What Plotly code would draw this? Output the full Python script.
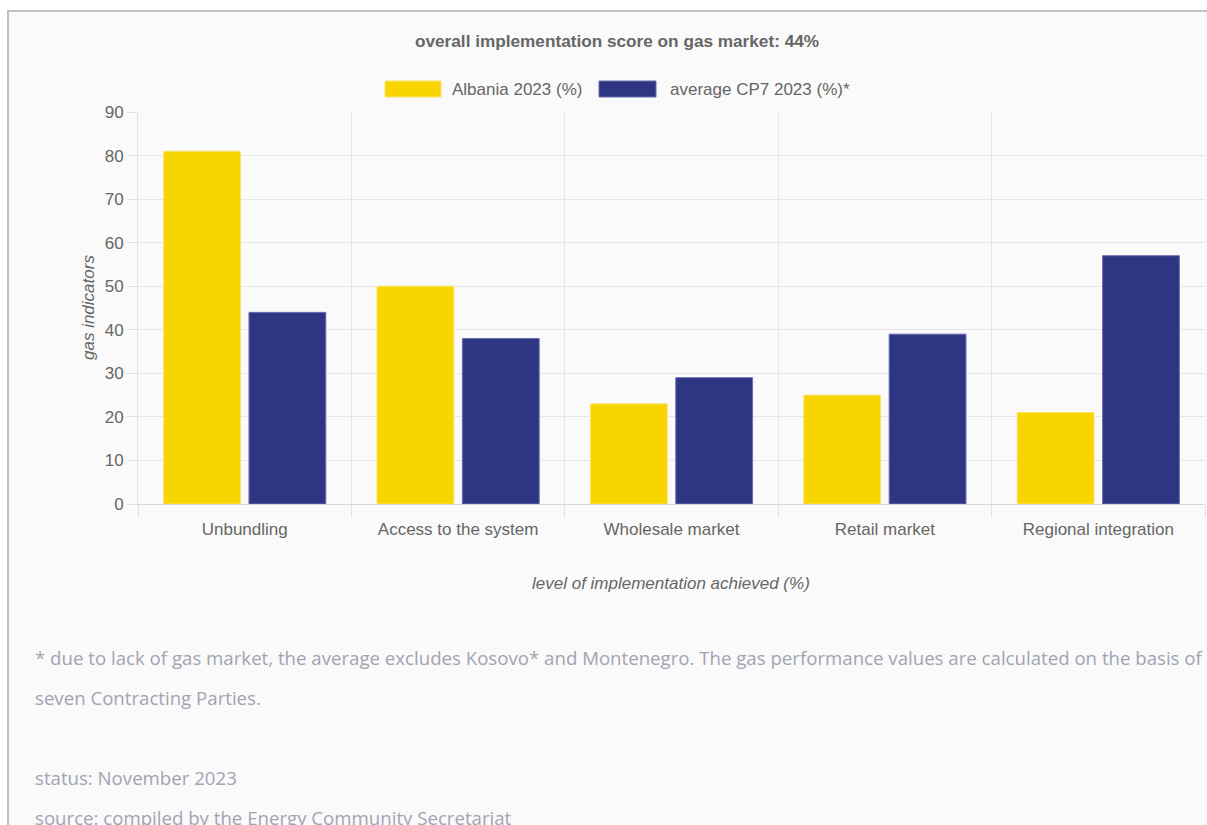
import plotly.graph_objects as go

categories = ["Unbundling", "Access to the system", "Wholesale market", "Retail market", "Regional integration"]
albania_2023 = [81, 50, 23, 25, 21]
average_cp7_2023 = [44, 38, 29, 39, 57]
series_names = ["Albania 2023 (%)", "average CP7 2023 (%)*"]
y_ticks = [0, 10, 20, 30, 40, 50, 60, 70, 80, 90]

title_text = "overall implementation score on gas market: 44%"
footnote_lines = [
    "* due to lack of gas market, the average excludes Kosovo* and Montenegro. The gas performance values are calculated on the basis of",
    "seven Contracting Parties.",
    "status: November 2023",
    "source: compiled by the Energy Community Secretariat",
]

W, H = 1207, 825
L, R, T, B = 138, 1205, 112, 504
YELLOW = "#F8D400"
NAVY = "#2E3582"
TXT = "#666666"
FONT = "Liberation Sans, Arial"


def px(x):
    return (x - L) / (R - L)


def py(y):
    return (B - y) / (B - T)


fig = go.Figure()
fig.add_trace(go.Bar(x=categories, y=albania_2023, name=series_names[0],
                     marker=dict(color=YELLOW, line=dict(color="#FBE36A", width=1))))
fig.add_trace(go.Bar(x=categories, y=average_cp7_2023, name=series_names[1],
                     marker=dict(color=NAVY, line=dict(color="#6A6FB0", width=1))))

shapes = [
    dict(type="rect", xref="paper", yref="paper", x0=px(8), x1=px(1260), y0=py(880), y1=py(11),
         fillcolor="#FAFAFA", line=dict(color="#C2C2C2", width=2), layer="below"),
    dict(type="rect", xref="paper", yref="paper", x0=px(385), x1=px(441), y0=py(97), y1=py(81),
         fillcolor=YELLOW, line=dict(color="#FBE36A", width=1)),
    dict(type="rect", xref="paper", yref="paper", x0=px(599), x1=px(656), y0=py(97), y1=py(81),
         fillcolor=NAVY, line=dict(color="#6A6FB0", width=1)),
]

annotations = [
    dict(text="<b>" + title_text + "</b>", xref="paper", yref="paper", x=px(617), y=py(41),
         xanchor="center", yanchor="middle", showarrow=False,
         font=dict(family=FONT, size=17.2, color=TXT)),
    dict(text=series_names[0], xref="paper", yref="paper", x=px(450), y=py(89),
         xanchor="left", yanchor="middle", showarrow=False,
         font=dict(family=FONT, size=17, color=TXT)),
    dict(text=series_names[1], xref="paper", yref="paper", x=px(668), y=py(89),
         xanchor="left", yanchor="middle", showarrow=False,
         font=dict(family=FONT, size=17, color=TXT)),
    dict(text="<i>gas indicators</i>", xref="paper", yref="paper", x=px(88), y=py(308),
         xanchor="center", yanchor="middle", showarrow=False, textangle=-90,
         font=dict(family=FONT, size=17, color=TXT)),
    dict(text="<i>level of implementation achieved (%)</i>", xref="paper", yref="paper", x=px(671), y=py(583),
         xanchor="center", yanchor="middle", showarrow=False,
         font=dict(family=FONT, size=17, color=TXT)),
]
for line, yy in zip(footnote_lines, [657, 697, 777, 817]):
    annotations.append(dict(text=line, xref="paper", yref="paper", x=px(33), y=py(yy),
                            xanchor="left", yanchor="middle", showarrow=False,
                            font=dict(family="Open Sans", size=18.65, color="#A3A3B3")))

fig.update_layout(
    width=W, height=H,
    margin=dict(l=L, r=W - R, t=T, b=H - B, pad=0),
    paper_bgcolor="#FFFFFF",
    plot_bgcolor="#FFFFFF",
    barmode="group", bargap=0.2, bargroupgap=0.1,
    showlegend=False,
    shapes=shapes,
    annotations=annotations,
    font=dict(family=FONT, size=17, color=TXT),
)
fig.update_xaxes(
    type="category", tickson="boundaries", ticks="outside", ticklen=12, tickcolor="#E2E2E2",
    showgrid=True, gridcolor="#E6E6E6", gridwidth=1,
    showline=True, linecolor="#D6D6D6", linewidth=1, mirror=False,
    tickfont=dict(size=17, color=TXT), automargin=False, ticklabelstandoff=10,
)
fig.update_yaxes(
    range=[0, 90], tickvals=y_ticks, ticks="outside", ticklen=10, tickcolor="#E2E2E2",
    showgrid=True, gridcolor="#E6E6E6", gridwidth=1, zeroline=False,
    showline=True, linecolor="#E2E2E2", linewidth=1,
    tickfont=dict(size=17, color=TXT), automargin=False,
)

fig.write_html(
    "out.html",
    config={"displayModeBar": False},
    post_script="document.body.style.margin='0';document.body.style.overflow='hidden';",
)
